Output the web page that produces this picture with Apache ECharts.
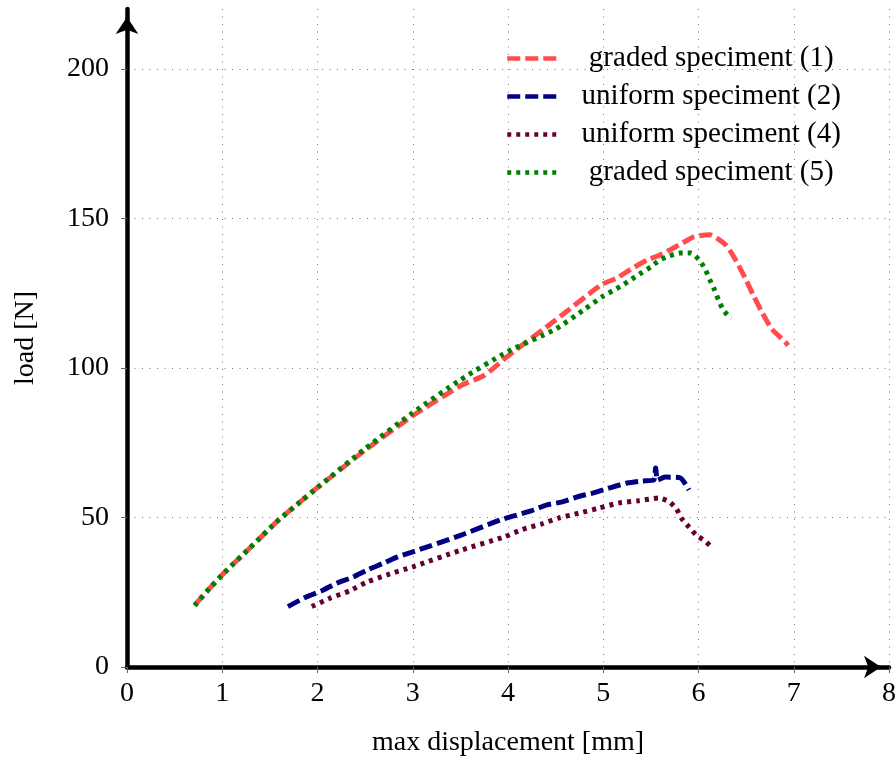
<!DOCTYPE html>
<html>
<head>
<meta charset="utf-8">
<script src="https://cdn.jsdelivr.net/npm/echarts@6/dist/echarts.min.js"></script>
<style>
  html, body { margin: 0; padding: 0; background: #fff; }
  #chart { width: 896px; height: 758px; }
</style>
</head>
<body>
<div id="chart"></div>
<script>
  // graded speciment (1)
  var gradedOneX = [0.71, 0.87, 1.03, 1.29, 1.57, 1.84, 2.0, 2.5, 3.0, 3.5, 3.75, 4.0, 4.5, 4.98, 5.14, 5.29, 5.46, 5.60, 5.79, 5.95, 6.12, 6.29, 6.40, 6.49, 6.58, 6.66, 6.77, 6.91, 6.94];
  var gradedOneY = [20.7, 26.4, 31.8, 39.8, 48.5, 55.8, 60, 72.5, 84, 94, 97.5, 104, 116, 127.8, 130, 133, 136, 137.8, 141, 143.8, 144.5, 141, 135.5, 130, 124, 119, 113, 108.7, 107.5];
  // uniform speciment (2)
  var uniformTwoX = [1.69, 1.88, 2.04, 2.20, 2.37, 2.52, 2.70, 2.84, 3.0, 3.5, 3.92, 4.06, 4.24, 4.41, 4.57, 4.74, 4.90, 5.08, 5.25, 5.41, 5.53, 5.55, 5.57, 5.65, 5.81, 5.90];
  var uniformTwoY = [20.2, 23.4, 25.4, 28, 30, 32.4, 34.8, 36.8, 38.5, 44, 49.2, 50.5, 52.2, 54.2, 55.2, 57, 58.2, 60, 61.5, 62.2, 62.5, 66.5, 62.5, 63.5, 63.2, 59.2];
  // uniform speciment (4)
  var uniformFourX = [1.94, 2.13, 2.34, 2.52, 2.73, 3.0, 3.5, 3.96, 4.15, 4.35, 4.53, 4.74, 4.95, 5.16, 5.37, 5.58, 5.69, 5.77, 5.82, 5.90, 5.98, 6.07, 6.14];
  var uniformFourY = [20.2, 23, 25.5, 28.4, 30.8, 33.5, 39, 43.5, 46, 47.8, 49.8, 51.4, 53.1, 54.8, 55.6, 56.5, 55.3, 52.8, 49.8, 46.8, 44, 42.1, 40];
  // graded speciment (5)
  var gradedFiveX = [0.71, 0.87, 1.03, 1.29, 1.57, 1.84, 2.0, 2.5, 3.0, 3.5, 4.0, 4.5, 4.8, 5.0, 5.11, 5.21, 5.30, 5.40, 5.50, 5.59, 5.69, 5.81, 5.92, 6.01, 6.07, 6.12, 6.17, 6.21, 6.26, 6.34];
  var gradedFiveY = [20.5, 26.4, 31.8, 39.8, 48.5, 55.8, 60, 73, 85, 96, 105.5, 113, 119.5, 124, 126, 127.8, 129.7, 131.8, 133.8, 136, 137.4, 138.4, 138.4, 136, 133, 129.4, 126, 122.7, 119.4, 116.4];

  var seriesNames = ['graded speciment (1)', 'uniform speciment (2)', 'uniform speciment (4)', 'graded speciment (5)'];
  var seriesColors = ['#ff4d4d', '#000080', '#660033', '#008000'];

  function pairs(xs, ys) {
    return xs.map(function (x, i) { return [x, ys[i]]; });
  }

  var font = 'Liberation Serif';
  var dashed = [13, 5];
  var dotted = [4, 5];

  function makeLine(idx, data, dash) {
    return {
      name: seriesNames[idx],
      type: 'line',
      data: data,
      symbol: 'none',
      smooth: 0.2,
      lineStyle: { color: seriesColors[idx], width: 5, type: dash },
      itemStyle: { color: seriesColors[idx] }
    };
  }

  var chart = echarts.init(document.getElementById('chart'));
  chart.setOption({
    animation: false,
    grid: { left: 127, right: 7, top: 9, bottom: 91, containLabel: false, outerBoundsMode: 'none' },
    legend: {
      orient: 'vertical',
      left: 500,
      top: 39,
      itemWidth: 49,
      itemHeight: 14,
      itemGap: 9,
      data: seriesNames,
      itemStyle: { opacity: 0 },
      lineStyle: { width: 4.5 },
      formatter: function (name) { return '{t|' + name + '}'; },
      textStyle: {
        rich: {
          t: { fontFamily: font, fontSize: 29, color: '#000', width: 300, align: 'center', lineHeight: 30 }
        }
      }
    },
    xAxis: {
      type: 'value',
      min: 0,
      max: 8,
      interval: 1,
      name: 'max displacement [mm]',
      nameLocation: 'middle',
      nameGap: 62,
      nameTextStyle: { fontFamily: font, fontSize: 28, color: '#000' },
      axisLine: {
        show: true,
        symbol: ['none', 'arrow'],
        symbolSize: [17, 17],
        symbolOffset: [0, -8],
        lineStyle: { color: '#000', width: 4.5 }
      },
      axisTick: { show: true, length: 6, lineStyle: { color: '#666', width: 1 } },
      axisLabel: { fontFamily: font, fontSize: 28, color: '#000', margin: 13 },
      splitLine: { show: true, lineStyle: { color: '#777', width: 1, type: [1, 6.5] } }
    },
    yAxis: {
      type: 'value',
      min: 0,
      max: 220,
      interval: 50,
      name: 'load [N]',
      nameLocation: 'middle',
      nameGap: 87,
      nameTextStyle: { fontFamily: font, fontSize: 28, color: '#000' },
      axisLine: {
        show: true,
        symbol: ['none', 'arrow'],
        symbolSize: [17, 17],
        symbolOffset: [0, -8],
        lineStyle: { color: '#000', width: 4.5 }
      },
      axisTick: { show: true, length: 6, lineStyle: { color: '#666', width: 1 } },
      axisLabel: { fontFamily: font, fontSize: 28, color: '#000', margin: 18, showMaxLabel: false },
      splitLine: { show: true, showMaxLine: false, lineStyle: { color: '#777', width: 1, type: [1, 6.5] } }
    },
    series: [
      makeLine(0, pairs(gradedOneX, gradedOneY), dashed),
      makeLine(1, pairs(uniformTwoX, uniformTwoY), dashed),
      makeLine(2, pairs(uniformFourX, uniformFourY), dotted),
      makeLine(3, pairs(gradedFiveX, gradedFiveY), dotted)
    ]
  });
</script>
</body>
</html>
